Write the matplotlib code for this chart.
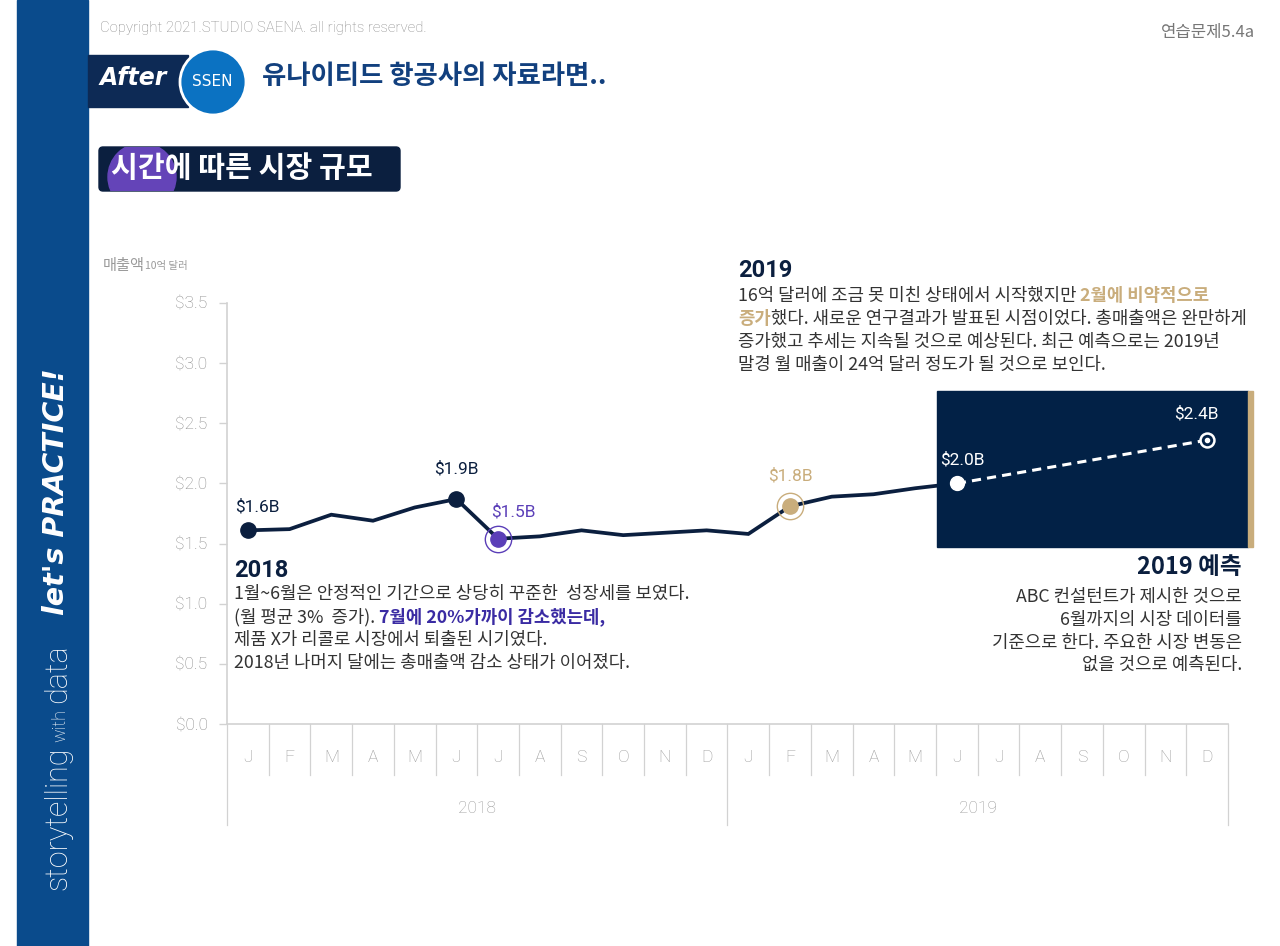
import matplotlib
matplotlib.use("Agg")
import matplotlib.pyplot as plt
from matplotlib.patches import Rectangle, Circle, FancyBboxPatch

# --- data ---
months = ['J', 'F', 'M', 'A', 'M', 'J', 'J', 'A', 'S', 'O', 'N', 'D'] * 2
years = ['2018', '2019']
# monthly revenue, $ billions, Jan 2018 .. Jun 2019
actual = [1.61, 1.62, 1.74, 1.69, 1.80, 1.87, 1.54, 1.56, 1.61, 1.57, 1.59, 1.61,
          1.58, 1.81, 1.89, 1.91, 1.96, 2.00]
# forecast: Jun 2019 -> Dec 2019
forecast_idx = [17, 23]
forecast = [2.00, 2.36]
yticks = [0.0, 0.5, 1.0, 1.5, 2.0, 2.5, 3.0, 3.5]

# colours
NAVY = '#0b1f3f'
BOX = '#022146'
PURPLE = '#5b3fb8'
PURPLE_TXT = '#3a2ba3'
GOLD = '#c9ad7c'
GREY = '#9a9a9a'
LINE_GREY = '#d2d2d2'
TXT = '#333333'

KR = ['Noto Sans CJK KR', 'DejaVu Sans']
NUM = ['Roboto', 'Noto Sans CJK KR', 'DejaVu Sans']
BODY = 12.8

fig = plt.figure(figsize=(12.8, 9.46), dpi=100)
fig.patch.set_facecolor('white')

# background axes in pixel coordinates for the page decoration
bg = fig.add_axes([0, 0, 1, 1])
bg.set_xlim(0, 1280)
bg.set_ylim(946, 0)
bg.axis('off')

# left sidebar
bg.add_patch(Rectangle((17, 0), 71, 946, color='#0a4b8c', zorder=1))
bg.text(58, 890, 'storytelling', rotation=90, color='white', fontsize=22, family=NUM,
        fontweight='light', ha='center', va='bottom')
bg.text(60, 742, 'with', rotation=90, color='white', fontsize=13, family=NUM,
        fontweight='light', ha='center', va='bottom')
bg.text(58, 703, 'data', rotation=90, color='white', fontsize=22, family=NUM,
        fontweight='light', ha='center', va='bottom')
bg.text(56, 615, "let's PRACTICE!", rotation=90, color='white', fontsize=20.5,
        family=['DejaVu Sans'], fontweight='bold', style='italic', ha='center', va='bottom')

# header
bg.text(100, 28, 'Copyright 2021.STUDIO SAENA. all rights reserved.', color='#8a8a8a',
        fontsize=10.8, family=NUM, fontweight='light', va='center')
bg.text(1255, 32, '연습문제5.4a', color='#777777', fontsize=12, family=KR,
        ha='right', va='center')
bg.add_patch(Rectangle((88, 55), 100, 52, color='#0d2a55', zorder=2))
bg.add_patch(Circle((213, 82), 33, facecolor='#0b72c2', edgecolor='white', lw=2, zorder=3))
bg.text(100, 78, 'After', color='white', fontsize=17, family=['DejaVu Sans'],
        style='italic', fontweight='bold', va='center', zorder=4)
bg.text(212, 81, 'SSEN', color='white', fontsize=11, family=['DejaVu Sans'],
        ha='center', va='center', zorder=4)
bg.text(262, 77, '유나이티드 항공사의 자료라면..', color='#12407e', fontsize=19,
        family=KR, fontweight='bold', va='center')

# section title
title_box = FancyBboxPatch((99, 147), 301, 44, boxstyle='round,pad=0,rounding_size=4',
                           color=NAVY, zorder=2)
bg.add_patch(title_box)
dot = Circle((142, 177), 34, color='#6444b8', zorder=3)
bg.add_patch(dot)
dot.set_clip_path(title_box)
bg.text(111, 168, '시간에 따른 시장 규모', color='white', fontsize=21, family=KR,
        fontweight='bold', va='center', zorder=4)

# y axis title
t = bg.text(103, 265, '매출액', color=GREY, fontsize=11, family=KR, va='center')
bg.annotate('10억 달러', xy=(1, 0.12), xycoords=t, color=GREY, fontsize=7.5,
            family=KR, va='bottom')

# --- chart axes ---
ax = fig.add_axes([227 / 1280, (946 - 724) / 946, (1228 - 227) / 1280, (724 - 303) / 946])
ax.patch.set_alpha(0)
ax.set_xlim(-0.5, 23.5)
ax.set_ylim(0, 3.5)
for s in ['top', 'right']:
    ax.spines[s].set_visible(False)
ax.spines['left'].set_color(LINE_GREY)
ax.spines['bottom'].set_color(LINE_GREY)
ax.spines['left'].set_linewidth(1.2)
ax.spines['bottom'].set_linewidth(1.2)
ax.set_yticks(yticks)
ax.set_yticklabels([f'${v:.1f}' for v in yticks], family=NUM, fontweight='light')
ax.tick_params(axis='y', length=6, width=1, color=LINE_GREY, labelcolor='#8a8a8a',
               labelsize=12.5, pad=8)
ax.set_xticks([])

# month grid below the axis
for i in range(len(months) + 1):
    bottom = -0.84 if i % 12 == 0 else -0.42
    ax.plot([i - 0.5, i - 0.5], [0, bottom], color=LINE_GREY, lw=0.9, clip_on=False)
for i, m in enumerate(months):
    ax.text(i, -0.28, m, ha='center', va='center', color=GREY, fontsize=12.5,
            family=NUM, fontweight='light')
for k, yr in enumerate(years):
    ax.text(12 * k + 5.5, -0.70, yr, ha='center', va='center', color=GREY,
            fontsize=12.5, family=NUM, fontweight='light')

# actual line
xs = list(range(len(actual)))
ax.plot(xs, actual, color=NAVY, lw=2.7, solid_joinstyle='miter', zorder=3)

# forecast box
ax.add_patch(Rectangle((16.52, 1.474), 23.98 - 16.52, 2.771 - 1.474, color=BOX,
                       zorder=4, clip_on=False))
ax.add_patch(Rectangle((23.98, 1.474), 0.12, 2.771 - 1.474, color=GOLD,
                       zorder=4, clip_on=False))
ax.plot(forecast_idx, forecast, color='white', lw=2.2, ls=(0, (3, 2)), zorder=5,
        clip_on=False)

# markers
ax.plot([0, 5], [actual[0], actual[5]], 'o', color=NAVY, ms=11, zorder=6)
ax.plot(6, actual[6], 'o', color=PURPLE, ms=11, zorder=6)
ax.plot(6, actual[6], 'o', mfc='none', mec=PURPLE, mew=1, ms=19, zorder=6)
ax.plot(13, actual[13], 'o', color=GOLD, ms=11, zorder=6)
ax.plot(13, actual[13], 'o', mfc='none', mec=GOLD, mew=1, ms=19, zorder=6)
ax.plot(forecast_idx[0], forecast[0], 'o', color='white', ms=10, zorder=7)
ax.plot(forecast_idx[1], forecast[1], 'o', mfc=BOX, mec='white', mew=1.8, ms=10,
        zorder=7, clip_on=False)
ax.plot(forecast_idx[1], forecast[1], 'o', color='white', ms=3, zorder=8, clip_on=False)

# value labels
labels = [(0, actual[0], '$1.6B', NAVY, (7, 17)),
          (5, actual[5], '$1.9B', NAVY, (0, 22)),
          (6, actual[6], '$1.5B', PURPLE, (11, 19.5)),
          (13, actual[13], '$1.8B', GOLD, (0, 22)),
          (forecast_idx[0], forecast[0], '$2.0B', 'white', (4, 17)),
          (forecast_idx[1], forecast[1], '$2.4B', 'white', (-8, 19))]
for x, y, s, c, off in labels:
    ax.annotate(s, xy=(x, y), xytext=off, textcoords='offset points', ha='center',
                va='center', color=c, fontsize=12.5, family=NUM, zorder=9,
                annotation_clip=False)

# --- text blocks ---
bg.text(234, 570, '2018', color=NAVY, fontsize=17, family=NUM, fontweight='bold',
        va='center')
bl = dict(color=TXT, fontsize=BODY, family=KR, va='center')
bg.text(234, 594, '1월~6월은 안정적인 기간으로 상당히 꾸준한  성장세를 보였다.', **bl)
t = bg.text(234, 617, '(월 평균 3%  증가).', **bl)
bg.annotate(' 7월에 20%가까이 감소했는데,', xy=(1, 0), xycoords=t, va='bottom',
            color=PURPLE_TXT, fontsize=BODY, family=KR, fontweight='bold')
bg.text(234, 640, '제품 X가 리콜로 시장에서 퇴출된 시기였다.', **bl)
bg.text(234, 663, '2018년 나머지 달에는 총매출액 감소 상태가 이어졌다.', **bl)

bg.text(738, 270, '2019', color=NAVY, fontsize=17, family=NUM, fontweight='bold',
        va='center')
t = bg.text(738, 296, '16억 달러에 조금 못 미친 상태에서 시작했지만', **bl)
bg.annotate(' 2월에 비약적으로', xy=(1, 0), xycoords=t, va='bottom', color=GOLD,
            fontsize=BODY, family=KR, fontweight='bold')
t = bg.text(738, 319, '증가', color=GOLD, fontsize=BODY, family=KR, fontweight='bold',
            va='center')
bg.annotate('했다. 새로운 연구결과가 발표된 시점이었다. 총매출액은 완만하게', xy=(1, 0),
            xycoords=t, va='bottom', color=TXT, fontsize=BODY, family=KR)
bg.text(738, 342, '증가했고 추세는 지속될 것으로 예상된다. 최근 예측으로는 2019년', **bl)
bg.text(738, 365, '말경 월 매출이 24억 달러 정도가 될 것으로 보인다.', **bl)

bg.text(1242, 567, '2019 예측', color=NAVY, fontsize=17, family=KR, fontweight='bold',
        ha='right', va='center')
br = dict(color=TXT, fontsize=BODY, family=KR, va='center', ha='right')
bg.text(1242, 597, 'ABC 컨설턴트가 제시한 것으로', **br)
bg.text(1242, 620, '6월까지의 시장 데이터를', **br)
bg.text(1242, 643, '기준으로 한다. 주요한 시장 변동은', **br)
bg.text(1242, 665, '없을 것으로 예측된다.', **br)

fig.savefig('out.png', dpi=100, facecolor='white')
